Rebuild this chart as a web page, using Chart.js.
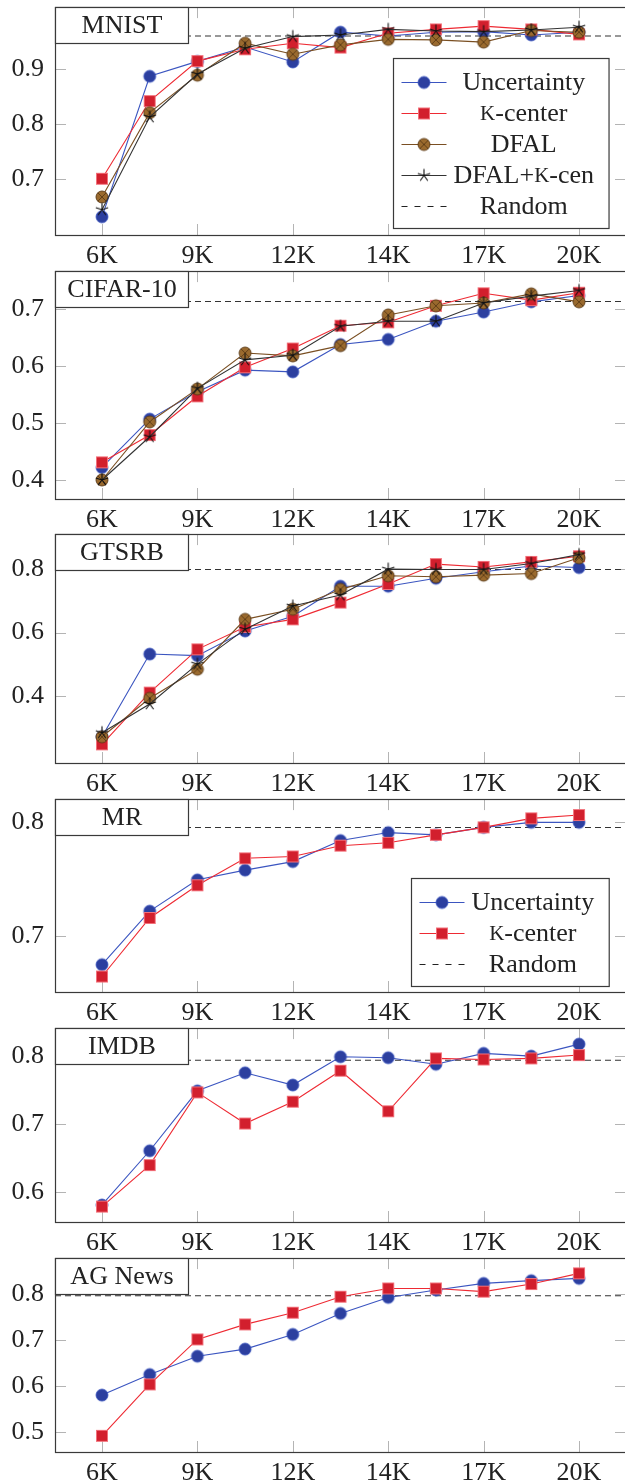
<!DOCTYPE html>
<html><head><meta charset="utf-8">
<script src="https://cdn.jsdelivr.net/npm/chart.js@4.4.1/dist/chart.umd.min.js"></script>
<style>
html,body{margin:0;padding:0;background:#fff;}
body{width:625px;height:1483px;overflow:hidden;position:relative;}
canvas{position:absolute;left:0;}
</style></head><body>
<script>
// ---------- data ----------
const sampleSizes = [6000, 7400, 8800, 10200, 11600, 13000, 14400, 15800, 17200, 18600, 20000];
const xTickValues = [6000, 8800, 11600, 14400, 17200, 20000];
const xTickLabels = ['6K', '9K', '12K', '14K', '17K', '20K'];

const panelTitles = ['MNIST', 'CIFAR-10', 'GTSRB', 'MR', 'IMDB', 'AG News'];
const seriesLabels = ['Uncertainty', 'K-center', 'DFAL', 'DFAL+K-cen', 'Random'];
const randomBaseline = [0.960, 0.7135, 0.800, 0.7955, 0.794, 0.797];

const mnistUncertainty = [0.632, 0.887, 0.914, 0.940, 0.913, 0.967, 0.960, 0.967, 0.968, 0.962, 0.967];
const mnistKCenter     = [0.701, 0.842, 0.9145, 0.936, 0.947, 0.939, 0.965, 0.972, 0.978, 0.972, 0.963];
const mnistDFAL        = [0.668, 0.821, 0.889, 0.947, 0.927, 0.944, 0.954, 0.953, 0.949, 0.970, 0.967];
const mnistDFALK       = [0.645, 0.813, 0.891, 0.938, 0.959, 0.962, 0.972, 0.969, 0.968, 0.971, 0.976];

const cifarUncertainty = [0.422, 0.507, 0.555, 0.593, 0.590, 0.638, 0.647, 0.679, 0.695, 0.713, 0.724];
const cifarKCenter     = [0.431, 0.479, 0.547, 0.598, 0.631, 0.671, 0.677, 0.706, 0.728, 0.716, 0.729];
const cifarDFAL        = [0.400, 0.502, 0.560, 0.623, 0.618, 0.636, 0.690, 0.706, 0.711, 0.727, 0.713];
const cifarDFALK       = [0.400, 0.476, 0.561, 0.611, 0.619, 0.670, 0.679, 0.679, 0.711, 0.723, 0.733];

const gtsrbUncertainty = [0.270, 0.532, 0.527, 0.605, 0.652, 0.747, 0.747, 0.772, 0.793, 0.811, 0.806];
const gtsrbKCenter     = [0.246, 0.410, 0.547, 0.618, 0.642, 0.695, 0.754, 0.817, 0.808, 0.824, 0.842];
const gtsrbDFAL        = [0.270, 0.392, 0.484, 0.642, 0.674, 0.737, 0.780, 0.777, 0.782, 0.787, 0.837];
const gtsrbDFALK       = [0.283, 0.374, 0.500, 0.611, 0.684, 0.719, 0.801, 0.800, 0.800, 0.819, 0.847];

const mrUncertainty = [0.675, 0.722, 0.7495, 0.758, 0.7655, 0.784, 0.791, 0.789, 0.7956, 0.800, 0.800];
const mrKCenter     = [0.6646, 0.716, 0.7447, 0.7684, 0.770, 0.7795, 0.782, 0.789, 0.7956, 0.8035, 0.8064];

const imdbUncertainty = [0.5814, 0.661, 0.749, 0.7755, 0.7575, 0.799, 0.7976, 0.788, 0.804, 0.800, 0.8176];
const imdbKCenter     = [0.579, 0.640, 0.7467, 0.701, 0.733, 0.7785, 0.719, 0.7966, 0.795, 0.7966, 0.8015];

const agUncertainty = [0.580, 0.625, 0.665, 0.6805, 0.7126, 0.7585, 0.7934, 0.8095, 0.824, 0.830, 0.835];
const agKCenter     = [0.491, 0.6034, 0.7017, 0.7345, 0.760, 0.795, 0.813, 0.813, 0.806, 0.8226, 0.846];

const yTicksMnist = [0.7, 0.8, 0.9];
const yTicksCifar = [0.4, 0.5, 0.6, 0.7];
const yTicksGtsrb = [0.4, 0.6, 0.8];
const yTicksMr    = [0.7, 0.8];
const yTicksImdb  = [0.6, 0.7, 0.8];
const yTicksAg    = [0.5, 0.6, 0.7, 0.8];

// ---------- styling ----------
const FONT = '"Liberation Serif", "Times New Roman", serif';
const FS = 26;
const TEXT = '#222';
const FRAME = '#3a3a3a';
const TICKC = '#b4b4b4';

function mk(draw) {
  const c = document.createElement('canvas');
  c.width = 16; c.height = 16;
  const g = c.getContext('2d');
  draw(g);
  return c;
}
const markCircle = mk(g => { g.beginPath(); g.arc(8, 8, 6, 0, Math.PI * 2); g.fillStyle = '#2c3f9f'; g.fill(); g.strokeStyle = '#3b55c0'; g.lineWidth = 0.8; g.stroke(); });
const markSquare = mk(g => { g.fillStyle = '#d21f2d'; g.fillRect(2, 2, 12, 12); g.strokeStyle = '#f2707a'; g.lineWidth = 1; g.strokeRect(2.5, 2.5, 11, 11); });
const markOtimes = mk(g => {
  g.beginPath(); g.arc(8, 8, 6, 0, Math.PI * 2); g.fillStyle = '#9a6a2e'; g.fill();
  g.strokeStyle = '#5a3a16'; g.lineWidth = 0.9; g.stroke();
  const d = 4.2; g.beginPath(); g.moveTo(8 - d, 8 - d); g.lineTo(8 + d, 8 + d); g.moveTo(8 + d, 8 - d); g.lineTo(8 - d, 8 + d); g.stroke();
});
const markStar = mk(g => {
  g.strokeStyle = '#111'; g.lineWidth = 1.1; g.beginPath();
  for (let k = 0; k < 5; k++) { const a = -Math.PI / 2 + k * 2 * Math.PI / 5; g.moveTo(8, 8); g.lineTo(8 + 6.5 * Math.cos(a), 8 + 6.5 * Math.sin(a)); }
  g.stroke();
});

const STY = [
  { line: '#3b55c0', mark: markCircle },
  { line: '#ee2a33', mark: markSquare },
  { line: '#7a4f22', mark: markOtimes },
  { line: '#333333', mark: markStar }
];

const X_MIN = 6000 - 0.985 * 1400;
const X_MAX = 20000 + 0.985 * 1400;

function drawSC(ctx, text, x, y, measureOnly) {
  // renders 'K' as a small capital
  let w = 0;
  const parts = text.split(/(K)/);
  for (const p of parts) {
    if (!p) continue;
    ctx.font = (p === 'K' ? Math.round(FS * 0.82) : FS) + 'px ' + FONT;
    const pw = ctx.measureText(p).width;
    if (!measureOnly) ctx.fillText(p, x + w, y);
    w += pw;
  }
  return w;
}

const framePlugin = {
  id: 'frame',
  beforeDatasetsDraw(chart) {
    const { ctx, chartArea: a, scales } = chart;
    const yt = chart.options.plugins.frame.yTicks;
    ctx.save();
    ctx.strokeStyle = TICKC; ctx.lineWidth = 1;
    ctx.beginPath();
    for (const v of xTickValues) {
      const px = Math.round(scales.x.getPixelForValue(v)) + 0.5;
      ctx.moveTo(px, a.top); ctx.lineTo(px, a.top + 11);
      ctx.moveTo(px, a.bottom); ctx.lineTo(px, a.bottom - 11);
    }
    for (const v of yt) {
      const py = Math.round(scales.y.getPixelForValue(v)) + 0.5;
      ctx.moveTo(a.left, py); ctx.lineTo(a.left + 11, py);
      ctx.moveTo(a.right, py); ctx.lineTo(a.right - 11, py);
    }
    ctx.stroke();
    ctx.restore();
  },
  afterDraw(chart) {
    const { ctx, chartArea: a } = chart;
    const o = chart.options.plugins.frame;
    ctx.save();
    // frame
    ctx.strokeStyle = FRAME; ctx.lineWidth = 1.2;
    ctx.strokeRect(Math.round(a.left) + 0.5, Math.round(a.top) + 0.5, Math.round(a.right - a.left), Math.round(a.bottom - a.top));
    // title box
    const bx = Math.round(a.left) + 0.5, by = Math.round(a.top) + 0.5, bw = 133, bh = 36;
    ctx.fillStyle = '#fff'; ctx.fillRect(bx, by, bw, bh);
    ctx.strokeRect(bx, by, bw, bh);
    ctx.fillStyle = TEXT; ctx.font = FS + 'px ' + FONT; ctx.textAlign = 'center'; ctx.textBaseline = 'middle';
    ctx.fillText(o.title, bx + bw / 2, by + bh / 2 + 1);
    // legend
    if (o.legend) {
      const items = o.legend;
      ctx.textAlign = 'left';
      let maxW = 0;
      for (const it of items) maxW = Math.max(maxW, drawSC(ctx, it.label, 0, 0, true));
      const W = a.right - a.left, H = a.bottom - a.top;
      const right = a.left + 0.97 * W, bottom = a.bottom - 0.03 * H;
      const bw2 = 60 + maxW + 15, bh2 = 46 + (items.length - 1) * 31;
      const L = Math.round(right - bw2) + 0.5, T = Math.round(bottom - bh2) + 0.5;
      ctx.fillStyle = '#fff'; ctx.fillRect(L, T, bw2, bh2);
      ctx.strokeStyle = FRAME; ctx.lineWidth = 1.2; ctx.strokeRect(L, T, bw2, bh2);
      items.forEach((it, i) => {
        const ry = Math.round(T + 23 + i * 31);
        ctx.save();
        ctx.strokeStyle = it.color; ctx.lineWidth = 1.1;
        if (it.dash) ctx.setLineDash([6, 7]);
        ctx.beginPath(); ctx.moveTo(L + 8, ry + 0.5); ctx.lineTo(L + 53, ry + 0.5); ctx.stroke();
        ctx.restore();
        if (it.mark) ctx.drawImage(it.mark, L + 30.5 - 8, ry + 0.5 - 8);
        ctx.fillStyle = TEXT; ctx.textBaseline = 'middle';
        const tw = drawSC(ctx, it.label, 0, 0, true);
        drawSC(ctx, it.label, L + 60 + (maxW - tw) / 2, ry + 1, false);
      });
    }
    ctx.restore();
  }
};

function makePanel(idx, top, plotH, yMin, yMax, yTicks, seriesList, withLegend) {
  const cv = document.createElement('canvas');
  const H = 7 + plotH + 36;
  cv.width = 640; cv.height = H;
  cv.style.width = '640px'; cv.style.height = H + 'px';
  cv.style.top = (top - 7) + 'px';
  document.body.appendChild(cv);

  const datasets = seriesList.map((vals, s) => ({
    label: seriesLabels[s],
    data: sampleSizes.map((x, i) => ({ x, y: vals[i] })),
    borderColor: STY[s].line, borderWidth: 1.1,
    pointStyle: STY[s].mark, pointRadius: 6, pointHoverRadius: 6,
    tension: 0, fill: false, order: 10 - s
  }));
  datasets.push({
    label: seriesLabels[4],
    data: [{ x: X_MIN, y: randomBaseline[idx] }, { x: X_MAX, y: randomBaseline[idx] }],
    borderColor: '#333', borderWidth: 1.1, borderDash: [6, 4], pointRadius: 0, order: 20
  });

  let legend = null;
  if (withLegend) {
    legend = seriesList.map((v, s) => ({ label: seriesLabels[s], color: STY[s].line, mark: STY[s].mark }));
    legend.push({ label: seriesLabels[4], color: '#222', dash: true });
  }

  new Chart(cv, {
    type: 'line',
    data: { datasets },
    options: {
      responsive: false, animation: false, events: [],
      devicePixelRatio: window.devicePixelRatio || 1,
      layout: { padding: { top: 7, left: 0, right: 14, bottom: 0 } },
      plugins: {
        legend: { display: false }, tooltip: { enabled: false },
        frame: { title: panelTitles[idx], yTicks, legend }
      },
      scales: {
        x: {
          type: 'linear', min: X_MIN, max: X_MAX,
          afterBuildTicks: s => { s.ticks = xTickValues.map(v => ({ value: v })); },
          afterFit: s => { s.height = 36; s.paddingLeft = 0; s.paddingRight = 0; s.paddingTop = 0; s.paddingBottom = 0; },
          ticks: { callback: (v, i) => xTickLabels[i], font: { family: FONT, size: FS }, color: TEXT, padding: 6, maxRotation: 0, autoSkip: false },
          grid: { display: false, drawTicks: false }, border: { display: false }
        },
        y: {
          type: 'linear', min: yMin, max: yMax,
          afterBuildTicks: s => { s.ticks = yTicks.map(v => ({ value: v })); },
          afterFit: s => { s.width = 55; s.paddingTop = 0; s.paddingBottom = 0; s.paddingLeft = 0; s.paddingRight = 0; },
          ticks: { callback: v => v.toFixed(1), font: { family: FONT, size: FS }, color: TEXT, padding: 11 },
          grid: { display: false, drawTicks: false }, border: { display: false }
        }
      }
    },
    plugins: [framePlugin]
  });
}

makePanel(0, 7,    228, 0.599, 1.0125, yTicksMnist, [mnistUncertainty, mnistKCenter, mnistDFAL, mnistDFALK], true);
makePanel(1, 271,  228, 0.3666, 0.767, yTicksCifar, [cifarUncertainty, cifarKCenter, cifarDFAL, cifarDFALK], false);
makePanel(2, 534,  229, 0.187, 0.912, yTicksGtsrb, [gtsrbUncertainty, gtsrbKCenter, gtsrbDFAL, gtsrbDFALK], false);
makePanel(3, 799,  193, 0.651, 0.8204, yTicksMr, [mrUncertainty, mrKCenter], true);
makePanel(4, 1028, 194, 0.5564, 0.8411, yTicksImdb, [imdbUncertainty, imdbKCenter], false);
makePanel(5, 1258, 194, 0.4557, 0.8793, yTicksAg, [agUncertainty, agKCenter], false);
</script>
</body></html>
